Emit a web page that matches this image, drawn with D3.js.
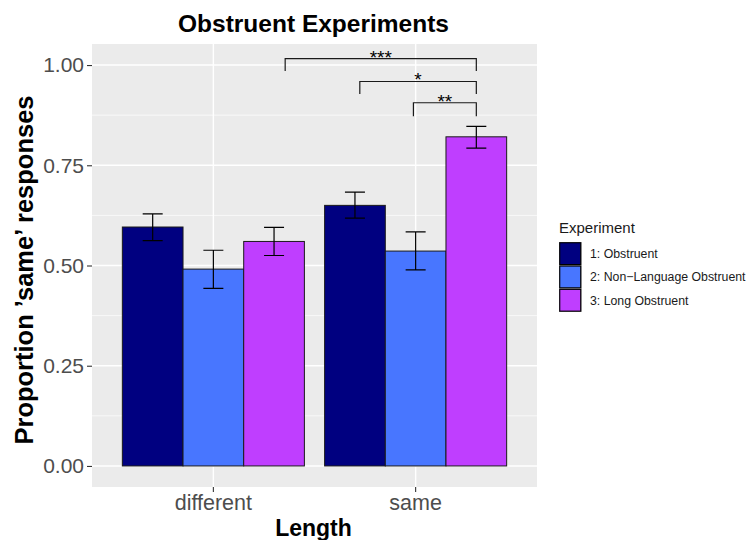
<!DOCTYPE html>
<html>
<head>
<meta charset="utf-8">
<script src="https://cdn.jsdelivr.net/npm/d3@7"></script>
<style>
  body { margin: 0; background: #fff; }
  text { font-family: "Liberation Sans", Arial, Helvetica, sans-serif; }
</style>
</head>
<body>
<svg width="747" height="540"></svg>
<script>
// chart values
var lengths = ['different', 'same']
var experiments = ['1: Obstruent', '2: Non\u2212Language Obstruent', '3: Long Obstruent']
var expColors = ['#000080', '#4876FF', '#BF3EFF']
var meansDifferent = [0.596, 0.491, 0.560]
var meansSame = [0.650, 0.536, 0.821]
var lowerDifferent = [0.562, 0.443, 0.525]
var upperDifferent = [0.629, 0.538, 0.595]
var lowerSame = [0.618, 0.489, 0.793]
var upperSame = [0.683, 0.584, 0.847]
var yTicks = [0, 0.25, 0.5, 0.75, 1]
// significance brackets (x in category units, 1 = different, 2 = same)
var sigLabels = ['***', '*', '**']
var sigXmin = [1.355, 1.724, 1.989]
var sigXmax = [2.30, 2.30, 2.30]
var sigY = [1.016, 0.959, 0.906]
var sigTip = [0.985, 0.928, 0.872]

var data = []
lengths.forEach(function(len, i) {
    var means = i === 0 ? meansDifferent : meansSame
    var lo = i === 0 ? lowerDifferent : lowerSame
    var hi = i === 0 ? upperDifferent : upperSame
    experiments.forEach(function(exp, j) {
        data.push({ length: len, exp: exp, value: means[j], lo: lo[j], hi: hi[j] })
    })
})

var svg = d3.select('svg')
var panel = { left: 92, right: 537, top: 44, bottom: 487 }

var x = d3.scaleBand()
    .domain(lengths)
    .range([panel.left, panel.right])
    .paddingInner(0.1)
    .paddingOuter(0.15)
var xSub = d3.scaleBand()
    .domain(experiments)
    .range([0, x.bandwidth()])
var xCont = d3.scaleLinear()
    .domain([0.4, 2.6])
    .range([panel.left, panel.right])
var y = d3.scaleLinear()
    .domain([-0.0525, 1.0525])
    .range([panel.bottom, panel.top])
var color = d3.scaleOrdinal().domain(experiments).range(expColors)

// panel background + grid
svg.append('rect')
    .attr('x', panel.left).attr('y', panel.top)
    .attr('width', panel.right - panel.left).attr('height', panel.bottom - panel.top)
    .attr('fill', '#EBEBEB')

var minor = [0.125, 0.375, 0.625, 0.875]
svg.append('g').selectAll('line')
    .data(minor).enter().append('line')
    .attr('x1', panel.left).attr('x2', panel.right)
    .attr('y1', d => y(d)).attr('y2', d => y(d))
    .attr('stroke', '#fff').attr('stroke-width', 0.7)
svg.append('g').selectAll('line')
    .data(yTicks).enter().append('line')
    .attr('x1', panel.left).attr('x2', panel.right)
    .attr('y1', d => y(d)).attr('y2', d => y(d))
    .attr('stroke', '#fff').attr('stroke-width', 1.4)
svg.append('g').selectAll('line')
    .data(lengths).enter().append('line')
    .attr('x1', d => x(d) + x.bandwidth() / 2).attr('x2', d => x(d) + x.bandwidth() / 2)
    .attr('y1', panel.top).attr('y2', panel.bottom)
    .attr('stroke', '#fff').attr('stroke-width', 1.4)

// bars
svg.append('g').selectAll('rect')
    .data(data).enter().append('rect')
    .attr('x', d => x(d.length) + xSub(d.exp))
    .attr('y', d => y(d.value))
    .attr('width', xSub.bandwidth())
    .attr('height', d => y(0) - y(d.value))
    .attr('fill', d => color(d.exp))
    .attr('stroke', '#1a1a1a')
    .attr('stroke-width', 1)

// error bars
var capW = 10
var eb = svg.append('g').attr('stroke', '#000').attr('stroke-width', 1.2).attr('fill', 'none')
data.forEach(function(d) {
    var cx = x(d.length) + xSub(d.exp) + xSub.bandwidth() / 2
    eb.append('path')
        .attr('d', 'M' + (cx - capW) + ',' + y(d.hi) + 'H' + (cx + capW) +
            'M' + cx + ',' + y(d.hi) + 'V' + y(d.lo) +
            'M' + (cx - capW) + ',' + y(d.lo) + 'H' + (cx + capW))
})

// significance brackets
var sig = svg.append('g')
sigLabels.forEach(function(lab, i) {
    sig.append('path')
        .attr('d', 'M' + xCont(sigXmin[i]) + ',' + y(sigTip[i]) +
            'V' + y(sigY[i]) + 'H' + xCont(sigXmax[i]) + 'V' + y(sigTip[i]))
        .attr('fill', 'none').attr('stroke', '#1a1a1a').attr('stroke-width', 1.2)
    sig.append('text')
        .attr('x', (xCont(sigXmin[i]) + xCont(sigXmax[i])) / 2)
        .attr('y', y(sigY[i]) + 5)
        .attr('text-anchor', 'middle')
        .attr('font-size', 19)
        .attr('fill', '#000')
        .text(lab)
})

// axes
var yAxis = d3.axisLeft(y).tickValues(yTicks).tickFormat(d3.format('.2f')).tickSize(5).tickPadding(3)
var gy = svg.append('g').attr('transform', 'translate(' + panel.left + ',0)').call(yAxis)
gy.select('.domain').remove()
gy.selectAll('line').attr('stroke', '#333').attr('stroke-width', 1.1)
gy.selectAll('text').attr('font-size', 21).attr('fill', '#4D4D4D').attr('font-family', null)

var xAxis = d3.axisBottom(x).tickSize(5).tickPadding(3)
var gx = svg.append('g').attr('transform', 'translate(0,' + panel.bottom + ')').call(xAxis)
gx.select('.domain').remove()
gx.selectAll('line').attr('stroke', '#333').attr('stroke-width', 1.1)
gx.selectAll('text').attr('font-size', 21.5).attr('fill', '#4D4D4D').attr('font-family', null)

// titles
var midX = (panel.left + panel.right) / 2
svg.append('text')
    .attr('x', midX - 1).attr('y', 32)
    .attr('text-anchor', 'middle').attr('font-size', 24.5).attr('font-weight', 'bold')
    .text('Obstruent Experiments')
svg.append('text')
    .attr('x', midX - 1).attr('y', 535.5)
    .attr('text-anchor', 'middle').attr('font-size', 23).attr('font-weight', 'bold')
    .text('Length')
svg.append('text')
    .attr('transform', 'translate(33,270) rotate(-90)')
    .attr('text-anchor', 'middle').attr('font-size', 25.5).attr('font-weight', 'bold')
    .text('Proportion \u2019same\u2019 responses')

// legend
var legend = svg.append('g').attr('transform', 'translate(559,0)')
legend.append('text')
    .attr('x', 0).attr('y', 233)
    .attr('font-size', 15).attr('fill', '#1a1a1a')
    .text('Experiment')
var keyH = 23.3
var keys = legend.selectAll('g.key')
    .data(experiments).enter().append('g')
    .attr('class', 'key')
    .attr('transform', (d, i) => 'translate(0,' + (242 + i * keyH) + ')')
keys.append('rect')
    .attr('width', 22.5).attr('height', keyH)
    .attr('fill', '#555')
keys.append('rect')
    .attr('x', 0.8).attr('y', 0.8)
    .attr('width', 20.9).attr('height', keyH - 1.6)
    .attr('fill', d => color(d))
    .attr('stroke', '#000').attr('stroke-width', 1)
keys.append('text')
    .attr('x', 31).attr('y', keyH / 2)
    .attr('dy', '0.35em')
    .attr('font-size', 12.3).attr('fill', '#1a1a1a')
    .text(d => d)
</script>
</body>
</html>
